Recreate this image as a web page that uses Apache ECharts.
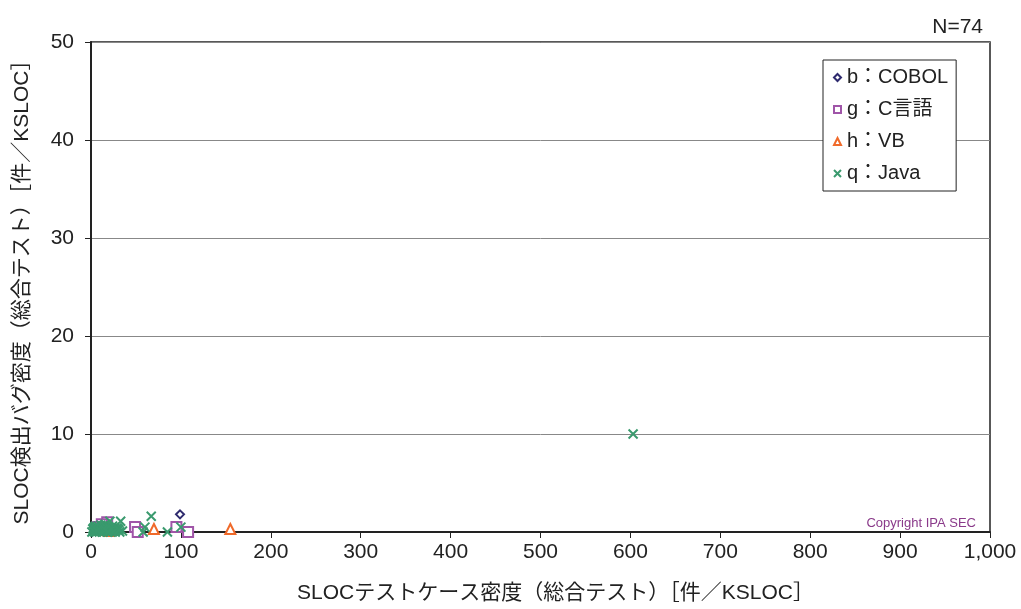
<!DOCTYPE html>
<html><head><meta charset="utf-8">
<script src="https://cdn.jsdelivr.net/npm/echarts@6/dist/echarts.min.js"></script>
<style>html,body{margin:0;padding:0;background:#fff}#c{width:1021px;height:609px}</style>
</head><body><div id="c"></div>
<script>
const seriesNames = ['b：COBOL', 'g：C言語', 'h：VB', 'q：Java'];
const xTicks = [0,100,200,300,400,500,600,700,800,900,1000];
const yTicks = [0,10,20,30,40,50];
const cobol = [[99,1.8],[15,0.6]];
const cLang = [[49,0.5],[52,0],[95,0.5],[108,0],[18,1.0],[12,0.8],[25,0.2],[8,0.5]];
const vb = [[70,0.3],[155,0.3],[10,0.2],[20,0.1]];
const java = [[603,10],[67,1.6],[33,1.1],[21,1.1],[60,0.5],[58,0],[85,0],[100,0.5],
  [2,0.3],[3,0.1],[4,0.5],[5,0.2],[6,0],[7,0.4],[8,0.6],[9,0.1],[10,0.3],[11,0.7],
  [12,0.2],[13,0],[14,0.5],[15,0.3],[16,0.8],[17,0.1],[18,0.4],[19,0.6],[20,0.2],[22,0],
  [23,0.5],[24,0.3],[25,0.1],[26,0.4],[27,0],[28,0.2],[30,0.3],[32,0],[35,0.1],[1,0],
  [3,0.4],[5,0.6],[6,0.3],[8,0.2],[9,0.5],[11,0.1],[12,0.4],[13,0.6],[14,0.2],[15,0.7],
  [17,0.5],[18,0],[20,0.5],[21,0.3],[24,0.6],[26,0.1],[29,0.4],[31,0.2],[4,0],[7,0.1],[16,0.2],[19,0]];

const font = '"Liberation Sans", "Noto Sans CJK JP", sans-serif';
const colors = ['#2e2a6e','#a055a8','#f06a2a','#3a9a6e'];
const crossPath = 'path://M0,0L10,10M10,0L0,10';
const symbols = ['diamond','rect','triangle',crossPath];
const sizes = [8,10,10,9];
const datasets = [cobol, cLang, vb, java];

const chart = echarts.init(document.getElementById('c'), null, {renderer:'canvas'});
chart.setOption({
  animation:false,
  backgroundColor:'#fff',
  grid:{left:91,right:31,top:42,bottom:76,show:true,borderColor:'#222',borderWidth:1.5,backgroundColor:'transparent'},
  title:[
    {text:'N=74',right:33,top:12,textStyle:{fontFamily:font,fontSize:21,fontWeight:'normal',color:'#222'}},
    {text:'Copyright IPA SEC',right:40,top:512,textStyle:{fontFamily:font,fontSize:13,fontWeight:'normal',color:'#8a3a8a'}}
  ],
  legend:{
    orient:'vertical',left:823,top:60,
    padding:[6,8,6,10],itemGap:9,itemWidth:7,itemHeight:7,
    backgroundColor:'#fff',borderColor:'#222',borderWidth:1,
    textStyle:{fontFamily:font,fontSize:20,color:'#222',padding:[0,0,0,1],lineHeight:23},
    data:seriesNames.map((n,i)=>({name:n,icon:symbols[i]}))
  },
  xAxis:{
    type:'value',min:0,max:1000,interval:100,
    name:'SLOCテストケース密度（総合テスト）［件／KSLOC］',nameLocation:'middle',nameGap:51,
    nameTextStyle:{fontFamily:font,fontSize:21,color:'#222',padding:[0,0,0,30]},
    axisLine:{show:true,onZero:false,lineStyle:{color:'#222',width:2}},
    axisTick:{show:true,inside:false,length:6,lineStyle:{color:'#222'}},
    axisLabel:{fontFamily:font,fontSize:21,color:'#222',margin:10,
      formatter:v=>v.toLocaleString('en-US')},
    splitLine:{show:false}
  },
  yAxis:{
    type:'value',min:0,max:50,interval:10,
    name:'SLOC検出バグ密度（総合テスト）［件／KSLOC］',nameLocation:'middle',nameGap:58,
    nameTextStyle:{fontFamily:font,fontSize:21,color:'#222'},
    axisLine:{show:true,lineStyle:{color:'#222',width:2}},
    axisTick:{show:true,inside:false,length:6,lineStyle:{color:'#222'}},
    axisLabel:{fontFamily:font,fontSize:21,color:'#222',margin:17},
    splitLine:{show:true,lineStyle:{color:'#888',width:1}}
  },
  series:datasets.map((d,i)=>({
    name:seriesNames[i],type:'scatter',data:d,
    symbol:symbols[i],symbolSize:sizes[i],
    itemStyle:{color:i===3?'transparent':'#fff',borderColor:colors[i],borderWidth:2,opacity:1},
    emphasis:{disabled:true}
  }))
});
</script></body></html>
